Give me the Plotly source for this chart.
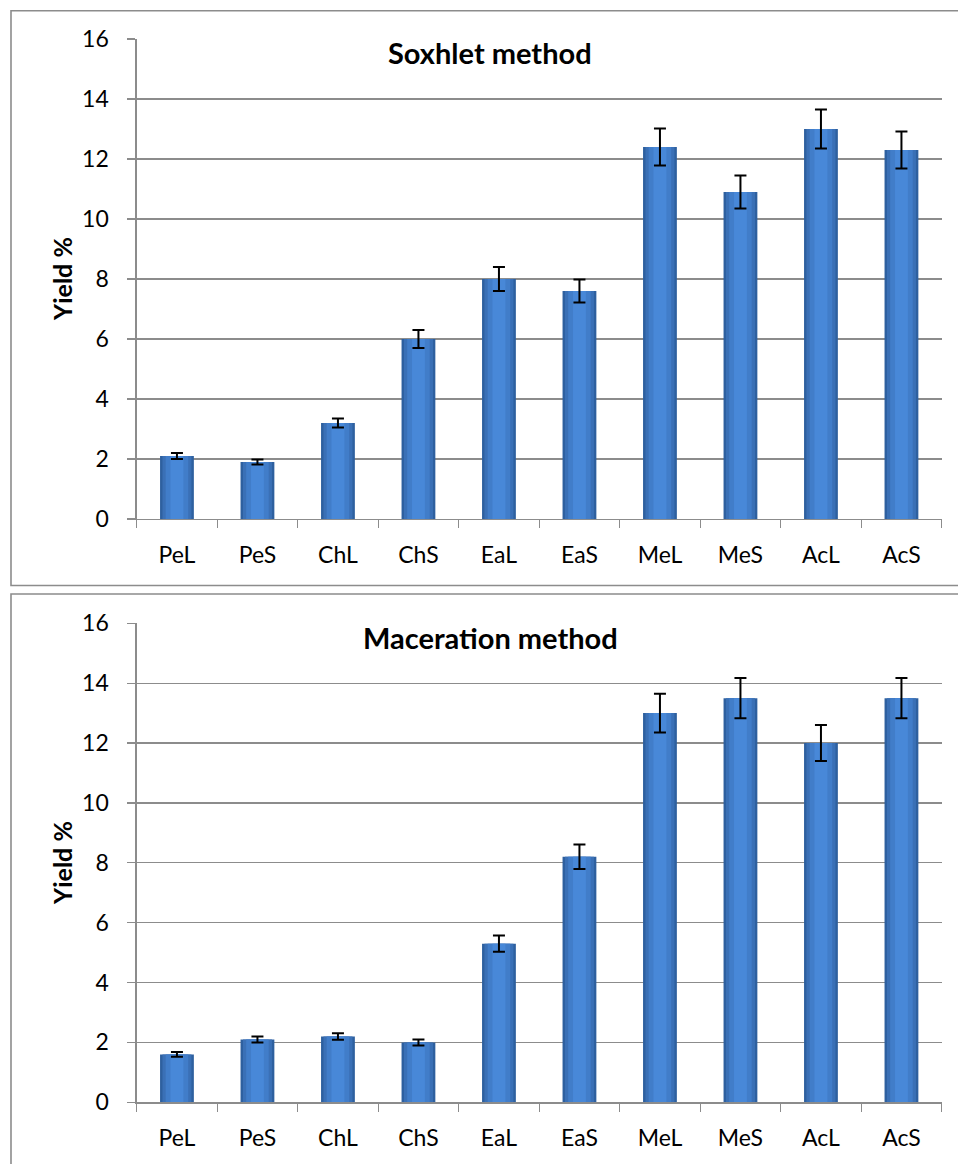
import plotly.graph_objects as go

categories = ["PeL", "PeS", "ChL", "ChS", "EaL", "EaS", "MeL", "MeS", "AcL", "AcS"]
soxhlet_yield = [2.1, 1.9, 3.2, 6.0, 8.0, 7.6, 12.4, 10.9, 13.0, 12.3]
soxhlet_err = [0.1, 0.08, 0.15, 0.3, 0.4, 0.38, 0.62, 0.55, 0.65, 0.62]
maceration_yield = [1.6, 2.1, 2.2, 2.0, 5.3, 8.2, 13.0, 13.5, 12.0, 13.5]
maceration_err = [0.08, 0.1, 0.11, 0.1, 0.27, 0.41, 0.65, 0.67, 0.6, 0.67]
y_ticks = [0, 2, 4, 6, 8, 10, 12, 14, 16]
titles = ["Soxhlet method", "Maceration method"]
y_title = "Yield %"

W, H = 958, 1164
FONT = "Lato, Calibri, Carlito, sans-serif"
GRID = "#8c8c8c"

fig = go.Figure()

layers = [(0.42, "#2e609f"), (0.36, "#3a70b6"), (0.28, "#417dc9"), (0.16, "#4888d8")]

panels = [
    ("x", "y", soxhlet_yield, soxhlet_err),
    ("x2", "y2", maceration_yield, maceration_err),
]
for xa, ya, vals, errs in panels:
    for i, (w, c) in enumerate(layers):
        last = i == len(layers) - 1
        fig.add_trace(go.Bar(
            x=categories, y=vals, xaxis=xa, yaxis=ya, width=w,
            marker=dict(color=c, line=dict(width=0)),
            error_y=dict(type="data", array=errs, visible=last, color="black",
                         thickness=2, width=6),
            showlegend=False, hoverinfo="skip" if not last else None,
        ))

def px_y(p):
    return 1 - p / H

xdom = [136.7 / W, 941.7 / W]
ydoms = [[px_y(519), px_y(39)], [px_y(1102.3), px_y(623.3)]]

axis_common_x = dict(
    type="category", range=[-0.5, 9.5], showline=True, linecolor=GRID, linewidth=1.3,
    ticks="outside", tickson="boundaries", ticklen=8, tickcolor=GRID, tickwidth=1.3,
    showgrid=False, tickfont=dict(family=FONT, size=23, color="black"),
    ticklabelstandoff=15, domain=xdom, fixedrange=True, automargin=False,
)
axis_common_y = dict(
    range=[0, 16], tickvals=y_ticks, showline=True, linecolor=GRID, linewidth=1.3,
    ticks="outside", ticklen=8, tickcolor=GRID, tickwidth=1.3,
    showgrid=True, gridcolor=GRID, gridwidth=1.3, zeroline=False,
    tickfont=dict(family=FONT, size=23, color="black"), ticklabelstandoff=14,
    fixedrange=True, automargin=False,
)

fig.update_layout(
    width=W, height=H, margin=dict(l=0, r=0, t=0, b=0, autoexpand=False),
    paper_bgcolor="white", plot_bgcolor="white", barmode="overlay",
    xaxis=dict(axis_common_x, anchor="y"),
    yaxis=dict(axis_common_y, domain=ydoms[0], anchor="x"),
    xaxis2=dict(axis_common_x, anchor="y2"),
    yaxis2=dict(axis_common_y, domain=ydoms[1], anchor="x2"),
    font=dict(family=FONT, color="black"),
)

annotations = []
shapes = []
title_y = [53, 637]
ytitle_y = [279, 863]
for k in range(2):
    annotations.append(dict(
        text="<b>%s</b>" % titles[k], x=490 / W, y=px_y(title_y[k]), xref="paper", yref="paper",
        showarrow=False, xanchor="center", yanchor="middle",
        font=dict(family=FONT, size=29, color="black"),
    ))
    annotations.append(dict(
        text="<b>%s</b>" % y_title, x=62 / W, y=px_y(ytitle_y[k]), xref="paper", yref="paper",
        showarrow=False, xanchor="center", yanchor="middle", textangle=-90,
        font=dict(family=FONT, size=25, color="black"),
    ))

shapes.append(dict(type="rect", xref="paper", yref="paper",
                   x0=11 / W, x1=1.02, y0=px_y(585.5), y1=px_y(10.7),
                   line=dict(color=GRID, width=1.6), fillcolor="rgba(0,0,0,0)", layer="below"))
shapes.append(dict(type="rect", xref="paper", yref="paper",
                   x0=11 / W, x1=1.02, y0=-0.02, y1=px_y(594),
                   line=dict(color=GRID, width=1.6), fillcolor="rgba(0,0,0,0)", layer="below"))

fig.update_layout(annotations=annotations, shapes=shapes)

fig.write_html("out.html", config={"displayModeBar": False, "staticPlot": True},
               post_script="document.body.style.margin='0';")
